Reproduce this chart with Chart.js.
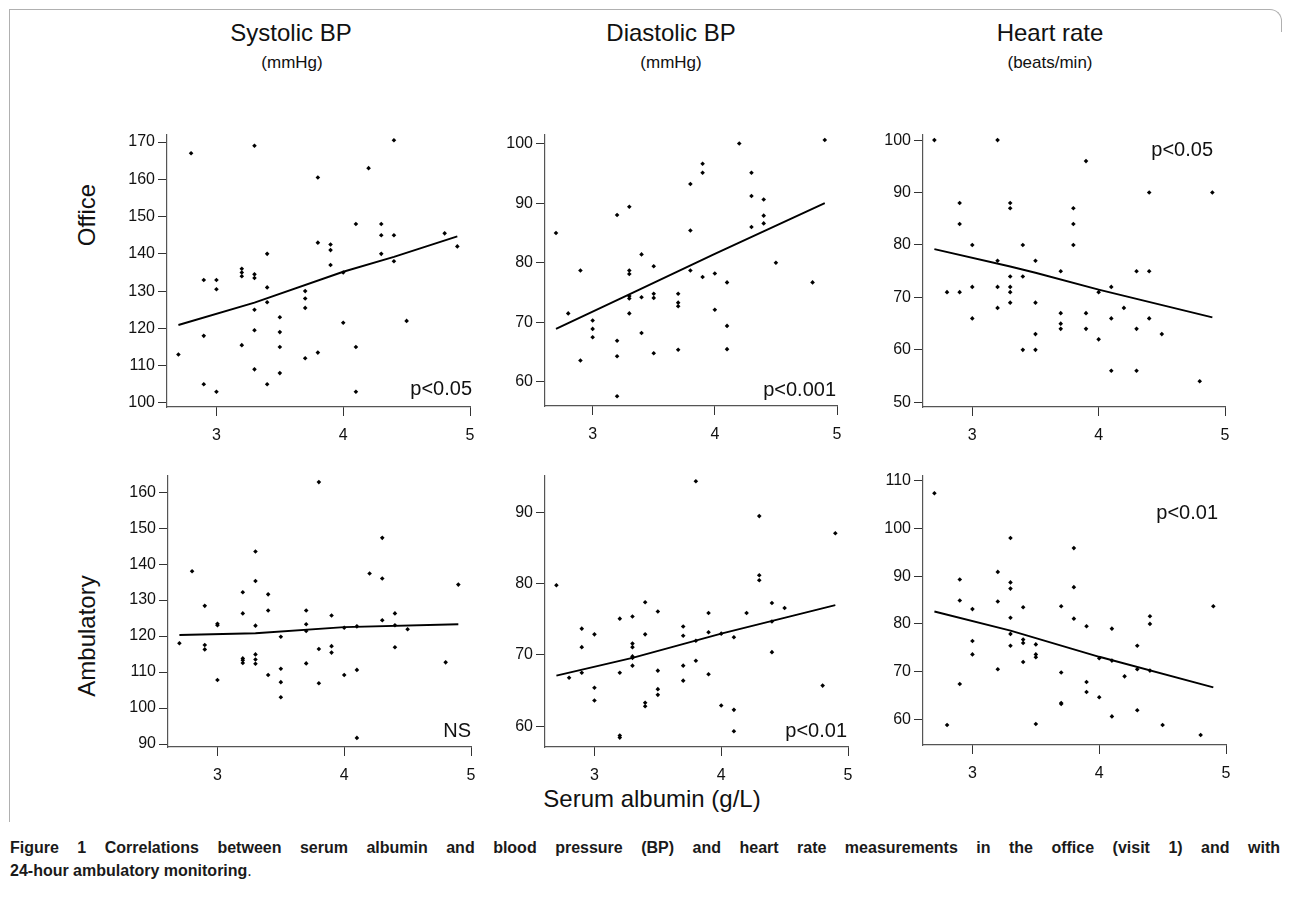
<!DOCTYPE html>
<html><head><meta charset="utf-8">
<script src="https://cdn.jsdelivr.net/npm/chart.js@4.4.0/dist/chart.umd.min.js"></script>
<style>
body{margin:0;background:#fff;width:1290px;height:909px;overflow:hidden;font-family:"Liberation Sans",Arial,Helvetica,sans-serif;color:#111;}
.abs{position:absolute;}
.title{font-size:24px;line-height:24px;white-space:nowrap;transform:translateX(-50%);}
.unit{font-size:17px;line-height:17px;white-space:nowrap;transform:translateX(-50%);}
.row{font-size:24px;line-height:24px;white-space:nowrap;transform:translate(-50%,-50%) rotate(-90deg);}
.cap{left:10px;width:1270px;font-size:16px;line-height:23px;font-weight:bold;color:#1a1a1a;white-space:nowrap;}
.cap1{text-align:justify;text-align-last:justify;white-space:normal;}
</style></head><body>
<div class="abs" style="left:9px;top:9px;width:1258px;height:812px;border-left:1px solid #b0b0b0;border-top:1px solid #b0b0b0;"></div>
<div class="abs" style="left:1267px;top:9px;width:14px;height:22px;border-right:1px solid #b0b0b0;border-top:1px solid #b0b0b0;border-top-right-radius:12px;"></div>

<div class="abs title" style="left:291px;top:21px;">Systolic BP</div>
<div class="abs unit" style="left:292px;top:54px;">(mmHg)</div>
<div class="abs title" style="left:671px;top:21px;">Diastolic BP</div>
<div class="abs unit" style="left:671px;top:54px;">(mmHg)</div>
<div class="abs title" style="left:1050px;top:21px;">Heart rate</div>
<div class="abs unit" style="left:1050px;top:54px;">(beats/min)</div>
<div class="abs row" style="left:87px;top:215px;">Office</div>
<div class="abs row" style="left:87px;top:636px;">Ambulatory</div>
<div class="abs title" style="left:652px;top:787px;">Serum albumin (g/L)</div>

<div class="abs cap cap1" style="top:836px;">Figure 1 Correlations between serum albumin and blood pressure (BP) and heart rate measurements in the office (visit 1) and with</div>
<div class="abs cap" style="top:859px;">24-hour ambulatory monitoring<span style="font-weight:normal">.</span></div>

<div id="panels"></div>
<script>
// ---------------- data ----------------
const xTickValues = [3, 4, 5];

const sbpOfficeAlb = [2.7, 2.8, 2.9,2.9,2.9, 3.0,3.0,3.0, 3.2,3.2,3.2,3.2, 3.3,3.3,3.3,3.3,3.3,3.3, 3.4,3.4,3.4,3.4, 3.5,3.5,3.5,3.5, 3.7,3.7,3.7,3.7, 3.8,3.8,3.8, 3.9,3.9,3.9, 4.0,4.0, 4.1,4.1,4.1, 4.2, 4.3,4.3,4.3, 4.4,4.4,4.4, 4.5, 4.8, 4.9];
const sbpOfficeVal = [113, 167, 133,118,105, 133,130.5,103, 136,135,134,115.5, 169,134.5,133.5,125,119.5,109, 140,131,127,105, 123,119,115,108, 130,128,125.5,112, 160.5,143,113.5, 142.5,141,137, 135,121.5, 148,115,103, 163, 148,145,140, 170.5,145,138, 122, 145.5, 142];
const sbpOfficeFit = [[2.7,120.9],[3.3,126.9],[4.0,135.2],[4.4,139.2],[4.9,144.7]];
const sbpOfficeTicks = [100,110,120,130,140,150,160,170];

const dbpOfficeAlb = [2.7, 2.8, 2.9,2.9, 3.0,3.0,3.0, 3.2,3.2,3.2,3.2, 3.3,3.3,3.3,3.3,3.3,3.3, 3.4,3.4,3.4, 3.5,3.5,3.5,3.5, 3.7,3.7,3.7,3.7, 3.8,3.8,3.8, 3.9,3.9,3.9, 4.0,4.0, 4.1,4.1,4.1, 4.2, 4.3,4.3,4.3, 4.4,4.4,4.4, 4.5, 4.8, 4.9];
const dbpOfficeVal = [85, 71.5, 78.7,63.6, 70.3,68.9,67.5, 88,66.9,64.3,57.6, 89.4,78.7,78.1,74.4,74,71.5, 81.4,74.2,68.2, 79.4,74.8,74.1,64.8, 74.8,73.3,72.7,65.4, 93.2,85.4,78.7, 96.6,95.1,77.6, 78.2,72.1, 76.7,69.4,65.5, 100, 95.1,91.2,86, 90.6,87.9,86.6, 80, 76.7, 100.6];
const dbpOfficeFit = [[2.7,68.9],[3.3,74.7],[4.0,81.5],[4.9,90.0]];
const dbpOfficeTicks = [60,70,80,90,100];

const hrOfficeAlb = [2.7, 2.8, 2.9,2.9,2.9, 3.0,3.0,3.0, 3.2,3.2,3.2,3.2, 3.3,3.3,3.3,3.3,3.3,3.3, 3.4,3.4,3.4, 3.5,3.5,3.5,3.5, 3.7,3.7,3.7,3.7, 3.8,3.8,3.8, 3.9,3.9,3.9, 4.0,4.0, 4.1,4.1,4.1, 4.2, 4.3,4.3,4.3, 4.4,4.4,4.4, 4.5, 4.8, 4.9];
const hrOfficeVal = [100, 71, 88,84,71, 80,72,66, 100,77,72,68, 88,87,74,72,71,69, 80,74,60, 77,69,63,60, 75,67,65,64, 87,84,80, 96,67,64, 71,62, 72,66,56, 68, 75,64,56, 90,75,66, 63, 54, 90];
const hrOfficeFit = [[2.7,79.2],[3.3,75.9],[3.5,74.7],[4.0,71.5],[4.9,66.2]];
const hrOfficeTicks = [50,60,70,80,90,100];

const sbpAmbAlb = [2.7, 2.8, 2.9,2.9,2.9, 3.0,3.0,3.0, 3.2,3.2,3.2,3.2,3.2, 3.3,3.3,3.3,3.3,3.3,3.3, 3.4,3.4,3.4, 3.5,3.5,3.5,3.5, 3.7,3.7,3.7,3.7, 3.8,3.8,3.8, 3.9,3.9,3.9, 4.0,4.0, 4.1,4.1,4.1, 4.2, 4.3,4.3,4.3, 4.4,4.4,4.4, 4.5, 4.8, 4.9];
const sbpAmbVal = [118, 138, 128.4,117.5,116.3, 123.4,123,107.8, 132.2,126.3,113.8,113.3,112.5, 143.5,135.3,122.9,114.9,113.5,112.3, 131.6,127.1,109.2, 119.8,110.9,107.2,103, 127.1,123.3,121.4,112.4, 162.8,116.4,106.9, 125.7,117.2,115.4, 122.3,109.2, 122.7,110.6,91.7, 137.4, 147.3,136,124.4, 126.3,123,116.9, 121.9, 112.7, 134.3];
const sbpAmbFit = [[2.7,120.3],[3.3,120.8],[4.0,122.5],[4.9,123.3]];
const sbpAmbTicks = [90,100,110,120,130,140,150,160];

const dbpAmbAlb = [2.7, 2.8, 2.9,2.9,2.9, 3.0,3.0,3.0, 3.2,3.2,3.2,3.2, 3.3,3.3,3.3,3.3,3.3,3.3, 3.4,3.4,3.4,3.4, 3.5,3.5,3.5,3.5, 3.7,3.7,3.7,3.7, 3.8,3.8,3.8, 3.9,3.9,3.9, 4.0,4.0, 4.1,4.1,4.1, 4.2, 4.3,4.3,4.3, 4.4,4.4,4.4, 4.5, 4.8, 4.9];
const dbpAmbVal = [79.8, 66.8, 73.7,71.1,67.5, 72.9,65.4,63.6, 75.1,67.5,58.7,58.4, 75.4,71.6,71.1,69.8,69.6,68.5, 77.4,72.9,63.3,62.8, 76.1,67.8,65.2,64.4, 74,72.7,68.5,66.4, 94.4,72,69.2, 75.9,73.2,67.3, 73,62.9, 72.5,62.3,59.3, 75.9, 89.5,81.2,80.5, 77.3,74.7,70.4, 76.6, 65.7, 87.1];
const dbpAmbFit = [[2.7,67.1],[3.3,69.6],[4.0,73.0],[4.9,77.0]];
const dbpAmbTicks = [60,70,80,90];

const hrAmbAlb = [2.7, 2.8, 2.9,2.9,2.9, 3.0,3.0,3.0, 3.2,3.2,3.2, 3.3,3.3,3.3,3.3,3.3,3.3, 3.4,3.4,3.4,3.4, 3.5,3.5,3.5,3.5, 3.7,3.7,3.7,3.7, 3.8,3.8,3.8, 3.9,3.9,3.9, 4.0,4.0, 4.1,4.1,4.1, 4.2, 4.3,4.3,4.3, 4.4,4.4,4.4, 4.5, 4.8, 4.9];
const hrAmbVal = [107.4, 58.8, 89.3,84.9,67.4, 83.1,76.4,73.6, 90.9,84.7,70.5, 98,88.7,87.4,81.3,77.9,75.4, 83.5,76.7,76,72, 75.7,73.6,73,59, 83.7,69.8,63.4,63.2, 95.9,87.7,81.1, 79.5,67.8,65.7, 72.8,64.6, 79,72.3,60.6, 69, 75.4,70.5,61.9, 81.6,80,70.2, 58.8, 56.7, 83.7];
const hrAmbFit = [[2.7,82.6],[3.3,78.6],[4.0,73.1],[4.9,66.7]];
const hrAmbTicks = [60,70,80,90,100,110];

const notes = ['p<0.05', 'p<0.001', 'p<0.05', 'NS', 'p<0.01', 'p<0.01'];

// ---------------- layout / style ----------------
const FONT = '"Liberation Sans", Arial, Helvetica, sans-serif';
const panels = [
  {alb:sbpOfficeAlb, val:sbpOfficeVal, fit:sbpOfficeFit, yt:sbpOfficeTicks, ymin:98.9, ymax:172.0, box:[167,470,132,407], note:{i:0, corner:'bottom', dx:2, dy:12}},
  {alb:dbpOfficeAlb, val:dbpOfficeVal, fit:dbpOfficeFit, yt:dbpOfficeTicks, ymin:55.96, ymax:101.5, box:[545,837,132,406], note:{i:1, corner:'bottom', dx:-1, dy:10}},
  {alb:hrOfficeAlb, val:hrOfficeVal, fit:hrOfficeFit, yt:hrOfficeTicks, ymin:49.1, ymax:101.05, box:[923,1225,132,407], note:{i:2, corner:'top', dx:-12, dy:21}},
  {alb:sbpAmbAlb, val:sbpAmbVal, fit:sbpAmbFit, yt:sbpAmbTicks, ymin:89.17, ymax:164.6, box:[168,471,473,747], note:{i:3, corner:'bottom', dx:0, dy:10}},
  {alb:dbpAmbAlb, val:dbpAmbVal, fit:dbpAmbFit, yt:dbpAmbTicks, ymin:57.08, ymax:95.19, box:[545,848,473,747], note:{i:4, corner:'bottom', dx:-1, dy:10}},
  {alb:hrAmbAlb, val:hrAmbVal, fit:hrAmbFit, yt:hrAmbTicks, ymin:54.6, ymax:111.1, box:[923,1226,473,745], note:{i:5, corner:'top', dx:-8, dy:43}}
];

const cornerText = {
  id:'cornerText',
  afterDatasetsDraw(chart, args, opts){
    if(!opts || !opts.text) return;
    const ctx = chart.ctx, a = chart.chartArea;
    ctx.save();
    ctx.font = '20px ' + FONT;
    ctx.fillStyle = '#111';
    ctx.textAlign = 'right';
    ctx.textBaseline = 'alphabetic';
    const y = opts.corner === 'top' ? a.top + opts.dy : a.bottom - opts.dy;
    ctx.fillText(opts.text, a.right + opts.dx, y);
    ctx.restore();
  }
};

const YW = 60, XH = 44, PT = 10, PR = 18;
const host = document.getElementById('panels');
panels.forEach(p => {
  const [L, R, T, B] = p.box;
  const left = L - YW, top = T - PT;
  const w = R - left + PR, h = B - top + XH;
  const div = document.createElement('div');
  div.className = 'abs';
  div.style.cssText = `left:${left}px;top:${top}px;width:${w}px;height:${h}px;`;
  const cv = document.createElement('canvas');
  cv.width = w; cv.height = h;
  cv.style.width = w + 'px'; cv.style.height = h + 'px';
  div.appendChild(cv); host.appendChild(div);

  const axisCommon = {
    type:'linear',
    grid:{drawOnChartArea:false, drawTicks:true, tickLength:9, color:'#333', tickColor:'#333', lineWidth:1},
    border:{display:true, color:'#555', width:1.2},
    ticks:{font:{size:16, family:FONT}, color:'#111', maxRotation:0, autoSkip:false, callback:v => String(v)}
  };
  new Chart(cv, {
    type:'scatter',
    data:{datasets:[
      {data:p.alb.map((x,i)=>({x:x, y:p.val[i]})), pointStyle:'rectRot', pointRadius:2.3, pointBorderWidth:0,
       backgroundColor:'#000', borderColor:'#000', showLine:false},
      {data:p.fit.map(d=>({x:d[0], y:d[1]})), showLine:true, pointRadius:0, borderColor:'#000', borderWidth:1.9, tension:0, fill:false}
    ]},
    options:{
      responsive:false, animation:false, devicePixelRatio:1,
      layout:{padding:{left:0, right:PR, top:PT, bottom:0}},
      plugins:{legend:{display:false}, tooltip:{enabled:false},
        cornerText:{text:notes[p.note.i], corner:p.note.corner, dx:p.note.dx, dy:p.note.dy}},
      scales:{
        x:Object.assign({}, axisCommon, {min:2.61, max:5,
          ticks:Object.assign({}, axisCommon.ticks, {padding:10}),
          afterBuildTicks:s => { s.ticks = xTickValues.map(v=>({value:v})); },
          afterFit:s => { s.height = XH; }}),
        y:Object.assign({}, axisCommon, {min:p.ymin, max:p.ymax,
          ticks:Object.assign({}, axisCommon.ticks, {padding:3}),
          afterBuildTicks:s => { s.ticks = p.yt.map(v=>({value:v})); },
          afterFit:s => { s.width = YW; }})
      }
    },
    plugins:[cornerText]
  });
});
</script>
</body></html>
